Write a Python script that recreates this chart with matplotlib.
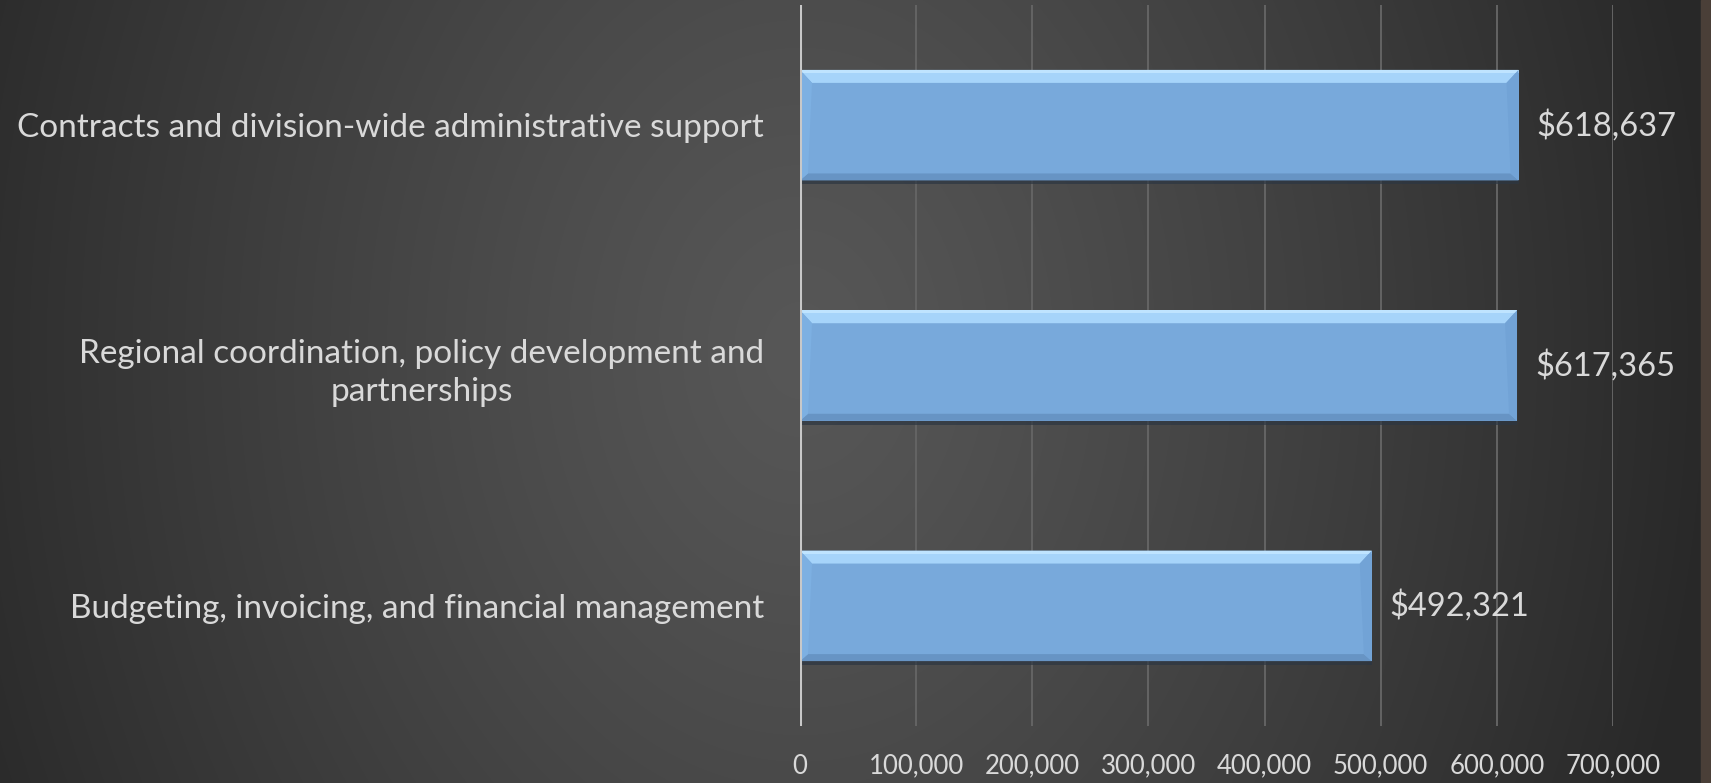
import matplotlib.pyplot as plt
import numpy as np
from matplotlib.patches import Polygon, Rectangle
from matplotlib.ticker import FuncFormatter

categories = [
    "Contracts and division-wide administrative support",
    "Regional coordination, policy development and\npartnerships",
    "Budgeting, invoicing, and financial management",
]
amounts = [618637, 617365, 492321]
x_ticks = [0, 100000, 200000, 300000, 400000, 500000, 600000, 700000]

plt.rcParams['font.family'] = ['Lato', 'DejaVu Sans']
text_col = '#d9d9d9'

W, H, DPI = 17.11, 7.83, 100
fig = plt.figure(figsize=(W, H), dpi=DPI)

# dark backdrop, lighter toward the middle
bg = fig.add_axes([0, 0, 1, 1], zorder=-10)
yy, xx = np.mgrid[0:783, 0:1711]
r = np.sqrt(((xx - 800) / 920.0) ** 2 + ((yy - 350) / 1200.0) ** 2)
r = np.clip(r, 0, 1) ** 1.2
lo, hi = np.array([0x28, 0x28, 0x28]) / 255, np.array([0x57, 0x57, 0x57]) / 255
img = hi[None, None, :] * (1 - r[..., None]) + lo[None, None, :] * r[..., None]
bg.imshow(img, aspect='auto', extent=[0, 1711, 783, 0])
bg.add_patch(Rectangle((1701, 0), 10, 783, color='#4a3f38'))
bg.set_xlim(0, 1711)
bg.set_ylim(783, 0)
bg.axis('off')

left, right, top, bottom = 800, 1613, 5, 726
ax = fig.add_axes([left / 1711, 1 - bottom / 783, (right - left) / 1711, (bottom - top) / 783])
ax.set_facecolor('none')

pos = np.arange(len(categories))
bar_h = 0.46
main_col = '#78a9db'
ax.barh(pos, amounts, height=bar_h, color=main_col, zorder=3)

ax.set_xlim(0, 700000)
ax.set_ylim(len(categories) - 0.5, -0.5)

# bevel sizes in pixels -> data units
px_x = 700000 / (right - left)
px_y = len(categories) / (bottom - top)
bx, by = 12 * px_x, 13 * px_y
bbx, bby = 8 * px_x, 7 * px_y
for p, v in zip(pos, amounts):
    t, b = p - bar_h / 2, p + bar_h / 2
    # drop shadow
    ax.add_patch(Rectangle((0, b), v, 4 * px_y, color='#2c3642', alpha=0.7, zorder=2, lw=0))
    ax.add_patch(Polygon([(0, t), (v, t), (v - bx, t + by), (bx, t + by)],
                         closed=True, color='#a6d4fa', lw=0, zorder=4))
    ax.add_patch(Polygon([(0, t), (v, t), (v, t + 3 * px_y), (0, t + 3 * px_y)],
                         closed=True, color='#bfe4ff', lw=0, zorder=4))
    ax.add_patch(Polygon([(0, b), (v, b), (v - bbx, b - bby), (bbx, b - bby)],
                         closed=True, color='#6794c4', lw=0, zorder=4))
    ax.add_patch(Polygon([(0, t), (bx, t + by), (bbx, b - bby), (0, b)],
                         closed=True, color='#7db0e2', lw=0, zorder=4))
    ax.add_patch(Polygon([(v, t), (v - bx, t + by), (v - bbx, b - bby), (v, b)],
                         closed=True, color='#72a3d6', lw=0, zorder=4))
    ax.annotate(f"${v:,.0f}", (v, p), xytext=(13, 0), textcoords='offset points',
                va='center', ha='left', color=text_col, fontsize=23.5)

ax.set_xticks(x_ticks)
ax.xaxis.set_major_formatter(FuncFormatter(lambda x, _: f"{x:,.0f}"))
ax.set_yticks(pos)
ax.set_yticklabels(categories, multialignment='center', linespacing=1.35)
ax.tick_params(axis='y', length=0, pad=26, labelsize=24, labelcolor=text_col)
ax.tick_params(axis='x', length=0, pad=20, labelsize=18.5, labelcolor=text_col)

ax.grid(axis='x', color='#646464', lw=1.4, zorder=0)
ax.axvline(0, color='#c8c8c8', lw=2.2, zorder=5)
for s in ax.spines.values():
    s.set_visible(False)

fig.savefig('out.png', dpi=DPI)
